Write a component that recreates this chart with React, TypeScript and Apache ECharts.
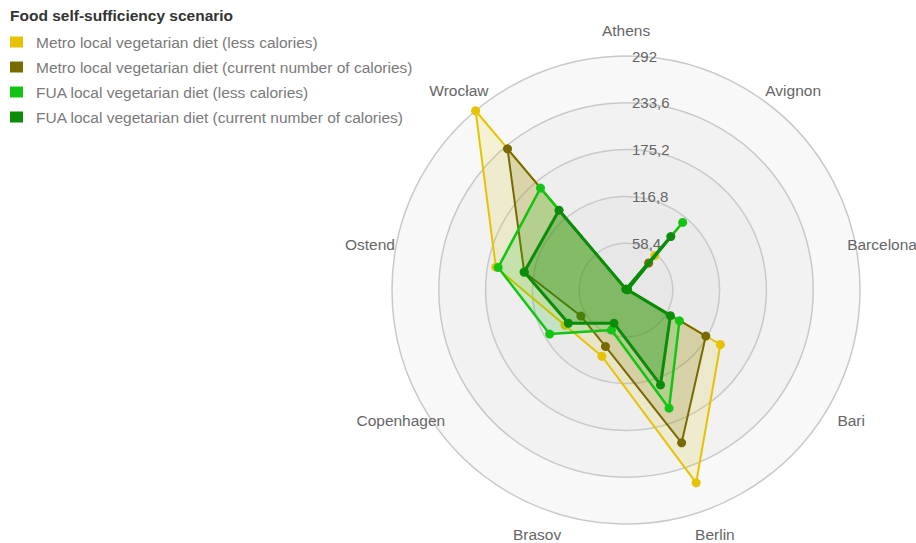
import React, { useEffect, useRef } from "react";
import * as echarts from "echarts";

const TITLE = "Food self-sufficiency scenario";
const CITIES = ["Athens", "Avignon", "Barcelona", "Bari", "Berlin", "Brasov", "Copenhagen", "Ostend", "Wrocław"];
const AXIS_MAX = 292;
const SPLITS = 5;

const SERIES_NAMES = [
  "Metro local vegetarian diet (less calories)",
  "Metro local vegetarian diet (current number of calories)",
  "FUA local vegetarian diet (less calories)",
  "FUA local vegetarian diet (current number of calories)",
];
const METRO_LESS = [1, 56, 2, 136, 256, 88, 88, 165, 292];
const METRO_CURRENT = [1, 44, 2, 115, 203, 75, 65, 129, 230];
const FUA_LESS = [1, 110, 2, 77, 157, 53, 110, 162, 166];
const FUA_CURRENT = [1, 87, 2, 64, 126, 44, 83, 129, 130];

const COLORS = ["#e6c300", "#776a00", "#14c414", "#0b8d0b"];
const AREAS = ["rgba(230,195,0,0.2)", "rgba(119,106,0,0.25)", "rgba(20,196,20,0.25)", "rgba(11,141,11,0.4)"];
const WIDTHS = [2, 2, 2.5, 3];

const FONT = "'Liberation Sans', Arial, sans-serif";

// ECharts lays indicators out counter-clockwise; the reference runs clockwise.
const clockwise = <T,>(arr: T[]): T[] => [arr[0], ...arr.slice(1).reverse()];

export default function App() {
  const ref = useRef<HTMLDivElement>(null);
  useEffect(() => {
    if (!ref.current) return;
    const chart = echarts.init(ref.current, null, { renderer: "svg" });
    const values = [METRO_LESS, METRO_CURRENT, FUA_LESS, FUA_CURRENT];
    const fmt = (v: number) => (v === 0 ? "" : String(Number(v.toFixed(1))).replace(".", ","));
    chart.setOption({
      animation: false,
      backgroundColor: "#ffffff",
      title: {
        text: TITLE,
        left: 5,
        top: 2,
        textStyle: { fontFamily: FONT, fontSize: 15.5, fontWeight: "bold", color: "#333333" },
      },
      legend: {
        orient: "vertical",
        left: 5,
        top: 29,
        itemWidth: 13,
        itemHeight: 11,
        itemGap: 9,
        icon: "rect",
        data: SERIES_NAMES,
        textStyle: { fontFamily: FONT, fontSize: 15.5, color: "#7a7a7a", padding: [0, 0, 0, 8] },
        selectedMode: false,
      },
      radar: {
        center: [626, 290],
        radius: 234,
        shape: "circle",
        startAngle: 90,
        splitNumber: SPLITS,
        nameGap: 26,
        axisName: {
          color: "#666666",
          fontFamily: FONT,
          fontSize: 15.5,
          align: "center",
          verticalAlign: "middle",
        },
        axisLine: { show: false },
        axisTick: { show: false },
        axisLabel: { show: false },
        splitLine: { lineStyle: { color: "#c9c9c9", width: 1.5 } },
        splitArea: {
          show: true,
          areaStyle: { color: ["#e7e7e7", "#eaeaea", "#eeeeee", "#f2f2f2", "#f8f8f8"] },
        },
        indicator: clockwise(CITIES).map((c, i) =>
          i === 0
            ? {
                name: c,
                min: 0,
                max: AXIS_MAX,
                axisLabel: {
                  show: true,
                  color: "#666666",
                  fontFamily: FONT,
                  fontSize: 15,
                  formatter: fmt,
                  showMinLabel: false,
                  margin: -6,
                  align: "left",
                },
              }
            : { name: c, min: 0, max: AXIS_MAX }
        ),
      },
      series: values.map((vals, i) => ({
        type: "radar",
        name: SERIES_NAMES[i],
        symbol: "circle",
        symbolSize: 9,
        z: 2 + i,
        itemStyle: { color: COLORS[i] },
        lineStyle: { color: COLORS[i], width: WIDTHS[i] },
        areaStyle: { color: AREAS[i] },
        data: [{ value: clockwise(vals), name: SERIES_NAMES[i] }],
      })),
    });
    return () => chart.dispose();
  }, []);
  return (
    <div
      ref={ref}
      style={{ position: "absolute", left: 0, top: 0, width: 916, height: 543 }}
    />
  );
}
